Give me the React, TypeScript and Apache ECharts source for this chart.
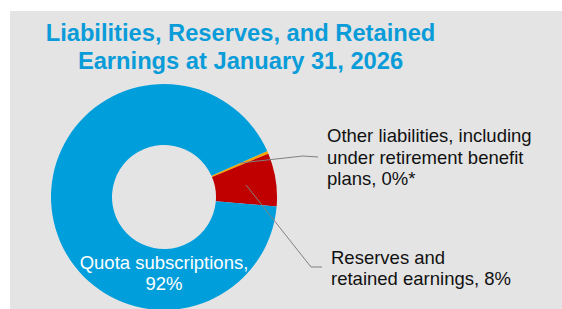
import React, { useEffect, useRef } from "react";
import * as echarts from "echarts";

const titleLines = ["Liabilities, Reserves, and Retained", "Earnings at January 31, 2026"];
const categories = [
  "Other liabilities, including\nunder retirement benefit\nplans, 0%*",
  "Reserves and\nretained earnings, 8%",
  "Quota subscriptions,\n92%",
];
const values = [0.4, 7.6, 92.0];
const colors = ["#f5a800", "#c00000", "#009edb"];

const FONT = "'Liberation Sans', Arial, sans-serif";

export default function App() {
  const ref = useRef<HTMLDivElement>(null);
  useEffect(() => {
    if (!ref.current) return;
    const chart = echarts.init(ref.current, undefined, { renderer: "svg" });
    const layouts: any[] = [
      { x: 327, y: 157, align: "left", verticalAlign: "middle" },
      { x: 331, y: 268, align: "left", verticalAlign: "middle" },
      { x: 164, y: 273, align: "center", verticalAlign: "middle" },
    ];
    const leaders = [
      [[240, 163], [303, 156], [318, 157]],
      [[246, 185], [311, 267], [322, 267]],
    ];
    chart.setOption({
      animation: false,
      backgroundColor: "#ffffff",
      graphic: [
        { type: "rect", z: -10, shape: { x: 10, y: 11, width: 552, height: 298 }, style: { fill: "#e4e4e4" } },
        {
          type: "text",
          x: 240.5,
          y: 47,
          style: {
            text: titleLines.join("\n"),
            fill: "#0a9cd9",
            font: `bold 23.7px ${FONT}`,
            lineHeight: 28,
            align: "center",
            verticalAlign: "middle",
          },
        },
        ...leaders.map((pts) => ({
          type: "polyline",
          z: 100,
          shape: { points: pts },
          style: { stroke: "#808080", lineWidth: 1, fill: "none" },
        })),
      ],
      series: [
        {
          type: "pie",
          center: [164, 197],
          radius: [52, 113],
          startAngle: 24,
          clockwise: true,
          avoidLabelOverlap: false,
          label: {
            show: true,
            fontFamily: FONT,
            fontSize: 18.5,
            lineHeight: 21.5,
            color: "#111111",
          },
          labelLine: { show: false },
          labelLayout: (p: any) => layouts[p.dataIndex],
          itemStyle: { borderWidth: 0 },
          emphasis: { disabled: true },
          data: categories.map((name, i) => ({
            name,
            value: values[i],
            itemStyle: { color: colors[i] },
            label:
              i === 2
                ? { formatter: "{b}", color: "#ffffff", position: "inside" }
                : { formatter: "{b}", position: "outside" },
          })),
        },
      ],
    });
    return () => chart.dispose();
  }, []);
  return <div ref={ref} style={{ position: "fixed", left: 0, top: 0, width: 562, height: 309 }} />;
}
